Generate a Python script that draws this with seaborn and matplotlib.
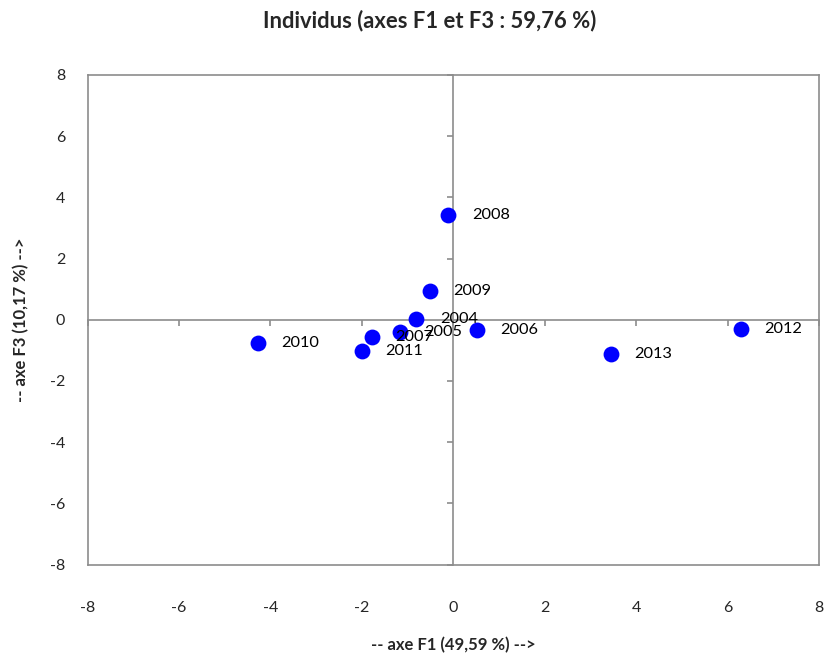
import matplotlib
matplotlib.use("Agg")
import matplotlib.pyplot as plt
import seaborn as sns
import pandas as pd

years = ["2004", "2005", "2006", "2007", "2008", "2009", "2010", "2011", "2012", "2013"]
f1 = [-0.81, -1.16, 0.51, -1.78, -0.11, -0.51, -4.27, -2.00, 6.29, 3.44]
f3 = [0.04, -0.40, -0.34, -0.56, 3.41, 0.93, -0.75, -1.03, -0.29, -1.13]
ticks = [-8, -6, -4, -2, 0, 2, 4, 6, 8]

df = pd.DataFrame({"year": years, "F1": f1, "F3": f3})

sns.set_theme(style="white")
plt.rcParams["font.family"] = ["Lato", "DejaVu Sans"]

fig = plt.figure(figsize=(8.24, 6.54), dpi=100)
pos = [87.5 / 824, 1 - 564.5 / 654, (819 - 87.5) / 824, (564.5 - 75) / 654]
ax = fig.add_axes(pos)

sns.scatterplot(data=df, x="F1", y="F3", ax=ax, color="#0000FF", s=130,
                edgecolor="#0000FF", linewidth=0, zorder=5)
for _, r in df.iterrows():
    ax.annotate(r["year"], (r["F1"], r["F3"]), xytext=(17, 0), textcoords="offset points",
                va="center", ha="left", fontsize=11.8, color="black", zorder=6)

ax.set_xlim(-8, 8)
ax.set_ylim(-8, 8)
ax.set_xticks(ticks)
ax.set_yticks(ticks)
ax.set_xticklabels([str(t) for t in ticks], fontsize=11.5)
ax.set_yticklabels([str(t) for t in ticks], fontsize=11.5)
ax.tick_params(axis="x", length=0, pad=26)
ax.tick_params(axis="y", length=0, pad=16)
for sp in ax.spines.values():
    sp.set_color("#8c8c8c")
    sp.set_linewidth(1.2)
ax.set_xlabel("-- axe F1 (49,59 %) -->", fontsize=12, fontweight="bold", labelpad=16)
ax.set_ylabel("-- axe F3 (10,17 %) -->", fontsize=12, fontweight="bold", labelpad=15)
fig.text(430 / 824, 1 - 21 / 654, "Individus (axes F1 et F3 : 59,76 %)", fontsize=15.8,
         fontweight="bold", ha="center", va="center")

# Zero axes with tick marks
ax2 = fig.add_axes(pos, sharex=ax, sharey=ax)
ax2.patch.set_alpha(0)
ax2.spines["top"].set_visible(False)
ax2.spines["right"].set_visible(False)
ax2.spines["left"].set_position(("data", 0))
ax2.spines["bottom"].set_position(("data", 0))
for k in ["left", "bottom"]:
    ax2.spines[k].set_color("#8c8c8c")
    ax2.spines[k].set_linewidth(1.2)
    ax2.spines[k].set_zorder(1)
ax2.tick_params(axis="both", direction="out", length=4, width=1.2, color="#8c8c8c",
                labelleft=False, labelbottom=False, left=True, bottom=True)
ax2.set_xlabel("")
ax2.set_ylabel("")
ax.set_zorder(2)
ax2.set_zorder(1)
ax.patch.set_alpha(0)

fig.savefig("out.png", dpi=100, facecolor="white")
